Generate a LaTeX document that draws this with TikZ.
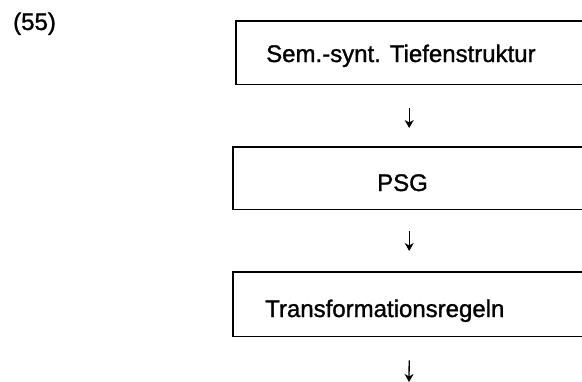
\documentclass[tikz,border=0pt]{standalone}
\usepackage{fontspec}
\setmainfont{Liberation Sans}
\newfontfamily\stagefont[FakeBold=1.2]{Liberation Sans}
\usepackage{tikz}
\usetikzlibrary{arrows.meta}
\usetikzlibrary{calc}

\begin{document}
\begin{tikzpicture}[x=1pt, y=-1pt,
        stage/.style={minimum width=352pt, minimum height=63pt, inner sep=0pt, anchor=north west},
        stagetext/.style={anchor=base west, inner sep=0pt, font=\stagefont\fontsize{24}{28}\selectfont},
        flow/.style={line width=1.3pt, -{Stealth[length=8pt, width=9pt, inset=2.5pt]}}]
    \useasboundingbox (0,0) rectangle (582,381);
    % Number of the example
    \node[stagetext] (num) at (13,30) {(55)};
    % Stages, open on the right side
    \node[stage] (tiefe) at (236,21) {};
    \node[stage, minimum height=62pt] (psg) at (233,147) {};
    \node[stage, minimum height=64pt] (trafo) at (233,272) {};
    \foreach \b in {tiefe, psg, trafo} {
        \draw[line width=1.7pt] (\b.north east) -- (\b.north west) -- (\b.south west) -- (\b.south east);
    }
    \node[stagetext] (tiefetext) at (266,62) {Sem.-synt. Tiefenstruktur};
    \node[stagetext] (psgtext) at (377,191) {PSG};
    \node[stagetext] (trafotext) at (265,317) {Transformationsregeln};
    % Arrows
    \coordinate (out) at (409,382);
    \draw[flow] ([yshift=-24pt]tiefe.south -| psg.north) -- ([yshift=19pt]psg.north);
    \draw[flow] ([yshift=-22pt]psg.south) -- ([yshift=21pt]trafo.north);
    \draw[flow] ([yshift=-24pt]trafo.south) -- (out);
\end{tikzpicture}
\end{document}
